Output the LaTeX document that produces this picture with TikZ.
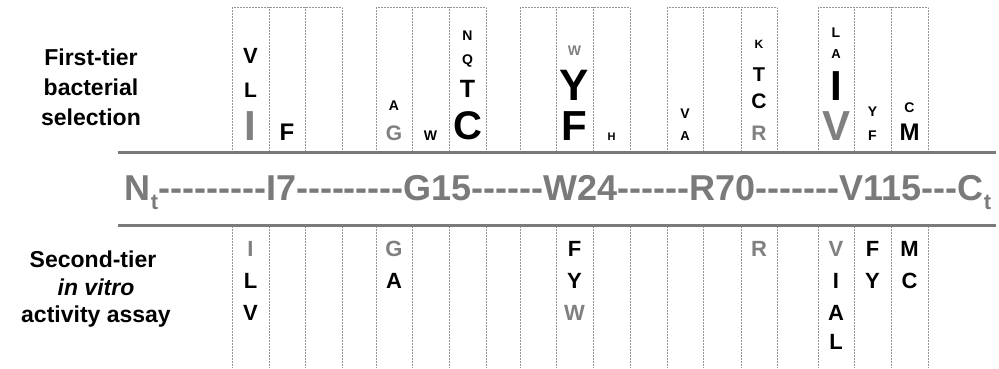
\documentclass[tikz,border=0pt]{standalone}
\usepackage{fontspec}
\setmainfont{Liberation Sans}[Ligatures=TeXOff]
\newcommand{\resfont}[1]{\fontsize{#1}{#1}\selectfont\bfseries}
\definecolor{linegray}{RGB}{122,122,122}
\definecolor{resgray}{RGB}{128,128,128}
\definecolor{dotgray}{RGB}{150,150,150}

\begin{document}
\begin{tikzpicture}[x=1pt,y=-1pt,
  res/.style={anchor=base,inner sep=0pt,text=black},
  grayres/.style={res,text=resgray},
  tierlabel/.style={anchor=base,inner sep=0pt,font=\resfont{23}},
  colline/.style={draw=dotgray,line width=0.5pt,densely dotted}]
% 999 x 368, two tiers around the sequence bar
\useasboundingbox (0,0) rectangle (999,368);

% first-tier column groups
\path[colline] (232,151) -- (232,7) -- (342,7) -- (342,151);
\path[colline] (269,7) -- (269,151) (305,7) -- (305,151);
\path[colline] (376,151) -- (376,7) -- (486,7) -- (486,151);
\path[colline] (412,7) -- (412,151) (449,7) -- (449,151);
\path[colline] (520,151) -- (520,7) -- (630,7) -- (630,151);
\path[colline] (556,7) -- (556,151) (593,7) -- (593,151);
\path[colline] (667,151) -- (667,7) -- (777,7) -- (777,151);
\path[colline] (703,7) -- (703,151) (741,7) -- (741,151);
\path[colline] (818,151) -- (818,7) -- (928,7) -- (928,151);
\path[colline] (854,7) -- (854,151) (891,7) -- (891,151);

% second-tier columns
\path[colline] (232,227) -- (232,368) (269,227) -- (269,368) (305,227) -- (305,368) (342,227) -- (342,368);
\path[colline] (376,227) -- (376,368) (412,227) -- (412,368) (449,227) -- (449,368) (486,227) -- (486,368);
\path[colline] (520,227) -- (520,368) (556,227) -- (556,368) (593,227) -- (593,368) (630,227) -- (630,368);
\path[colline] (667,227) -- (667,368) (703,227) -- (703,368) (741,227) -- (741,368) (777,227) -- (777,368);
\path[colline] (818,227) -- (818,368) (854,227) -- (854,368) (891,227) -- (891,368) (928,227) -- (928,368);

% sequence bar
\path[draw=linegray,line width=3pt] (118,152) -- (996,152);
\path[draw=linegray,line width=3pt] (118,225) -- (996,225);
\node[anchor=base,inner sep=0pt,text=linegray,font=\resfont{36}] (seq) at (558,200)
  {N\raisebox{-0.25em}{\resfont{22}t}---------I7---------G15------W24------R70-------V115---C\raisebox{-0.25em}{\resfont{22}t}};

% row labels
\node[tierlabel] (tier1a) at (91,65) {First-tier};
\node[tierlabel] (tier1b) at (91,95) {bacterial};
\node[tierlabel] (tier1c) at (91,125) {selection};
\node[tierlabel] (tier2a) at (93,267) {Second-tier};
\node[tierlabel,font=\resfont{23}\itshape] (tier2b) at (96,295) {in vitro};
\node[tierlabel] (tier2c) at (96,322) {activity assay};

% first-tier residues
\node[res,font=\resfont{22}] (i7v) at (250.5,63) {V};
\node[res,font=\resfont{21}] (i7l) at (250.5,97) {L};
\node[grayres,font=\resfont{42}] (i7i) at (250.5,140) {I};
\node[res,font=\resfont{24}] (p8f) at (287,140) {F};
\node[res,font=\resfont{14}] (g15a) at (394,110) {A};
\node[grayres,font=\resfont{21}] (g15g) at (394,140) {G};
\node[res,font=\resfont{14}] (p16w) at (430.5,140) {W};
\node[res,font=\resfont{14}] (p17n) at (467.5,40) {N};
\node[res,font=\resfont{14}] (p17q) at (467.5,64) {Q};
\node[res,font=\resfont{25}] (p17t) at (467.5,97) {T};
\node[res,font=\resfont{40}] (p17c) at (467.5,139) {C};
\node[grayres,font=\resfont{14}] (w24w) at (574.5,55) {W};
\node[res,font=\resfont{44}] (w24y) at (574.5,100) {Y};
\node[res,font=\resfont{42}] (w24f) at (574.5,140) {F};
\node[res,font=\resfont{11}] (p25h) at (611.5,140) {H};
\node[res,font=\resfont{14}] (p68v) at (685,118) {V};
\node[res,font=\resfont{13}] (p68a) at (685,140) {A};
\node[res,font=\resfont{12}] (r70k) at (759,48) {K};
\node[res,font=\resfont{20}] (r70t) at (759,81) {T};
\node[res,font=\resfont{21}] (r70c) at (759,108) {C};
\node[grayres,font=\resfont{21}] (r70r) at (759,140) {R};
\node[res,font=\resfont{14}] (v115l) at (836,37) {L};
\node[res,font=\resfont{13}] (v115a) at (836,58) {A};
\node[res,font=\resfont{42}] (v115i) at (836,100) {I};
\node[grayres,font=\resfont{42}] (v115v) at (836,140) {V};
\node[res,font=\resfont{14}] (p116y) at (872.5,116) {Y};
\node[res,font=\resfont{14}] (p116f) at (872.5,140) {F};
\node[res,font=\resfont{14}] (p117c) at (909.5,112) {C};
\node[res,font=\resfont{24}] (p117m) at (909.5,140) {M};

% second-tier residues
\node[grayres,font=\resfont{22}] (s7i) at (250.5,256) {I};
\node[res,font=\resfont{22}] (s7l) at (250.5,288) {L};
\node[res,font=\resfont{22}] (s7v) at (250.5,320) {V};
\node[grayres,font=\resfont{22}] (s15g) at (394,256) {G};
\node[res,font=\resfont{22}] (s15a) at (394,288) {A};
\node[res,font=\resfont{22}] (s24f) at (574.5,256) {F};
\node[res,font=\resfont{22}] (s24y) at (574.5,288) {Y};
\node[grayres,font=\resfont{22}] (s24w) at (574.5,320) {W};
\node[grayres,font=\resfont{22}] (s70r) at (759,256) {R};
\node[grayres,font=\resfont{22}] (s115v) at (836,256) {V};
\node[res,font=\resfont{22}] (s115i) at (836,288) {I};
\node[res,font=\resfont{22}] (s115a) at (836,320) {A};
\node[res,font=\resfont{22}] (s115l) at (836,349) {L};
\node[res,font=\resfont{22}] (s116f) at (872.5,256) {F};
\node[res,font=\resfont{22}] (s116y) at (872.5,288) {Y};
\node[res,font=\resfont{22}] (s117m) at (909.5,256) {M};
\node[res,font=\resfont{22}] (s117c) at (909.5,288) {C};
\end{tikzpicture}
\end{document}
